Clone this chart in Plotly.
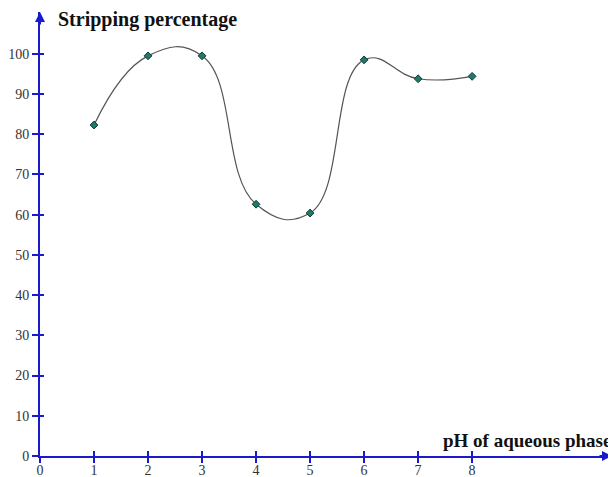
import plotly.graph_objects as go

ph = [1, 2, 3, 4, 5, 6, 7, 8]
stripping = [82.3, 99.5, 99.5, 62.6, 60.4, 98.5, 93.8, 94.4]
x_ticks = [0, 1, 2, 3, 4, 5, 6, 7, 8]
y_ticks = [0, 10, 20, 30, 40, 50, 60, 70, 80, 90, 100]

AXIS = "#1a1acc"
XMAX = 10.59
YMAX = 110.4
FONT = "Liberation Serif"

fig = go.Figure()
fig.add_trace(go.Scatter(
    x=ph, y=stripping, mode="lines+markers",
    line=dict(color="#555555", width=1.2, shape="spline", smoothing=1.3),
    marker=dict(symbol="diamond", size=6, color="#1f7a68",
                line=dict(color="#0d3b33", width=1)),
    showlegend=False, cliponaxis=False,
))
fig.add_trace(go.Scatter(x=[None], y=[None], xaxis="x2", yaxis="y2", showlegend=False))

common_x = dict(range=[0, XMAX], tickvals=x_ticks, showgrid=False, zeroline=False,
                linecolor=AXIS, tickcolor=AXIS, tickwidth=1.5, automargin=False)
common_y = dict(range=[0, YMAX], tickvals=y_ticks, showgrid=False, zeroline=False,
                linecolor=AXIS, tickcolor=AXIS, tickwidth=1.5, automargin=False)

# page body has an 8px margin, so the figure is sized to end at the window edge
fig.update_layout(
    width=608, height=469,
    margin=dict(l=32, r=4, t=4, b=21),
    paper_bgcolor="white", plot_bgcolor="white",
    font=dict(family=FONT, size=14, color="#333333"),
    xaxis=dict(**common_x, showline=True, linewidth=2, ticks="outside", ticklen=5,
               ticklabelstandoff=-5,
               tickfont=dict(family=FONT, size=14, color="#333333")),
    yaxis=dict(**common_y, showline=True, linewidth=2, ticks="outside", ticklen=6,
               tickfont=dict(family=FONT, size=14, color="#333333")),
    xaxis2=dict(**common_x, overlaying="x", anchor="y2", showline=False, ticks="inside",
                ticklen=5, showticklabels=False, side="bottom"),
    yaxis2=dict(**common_y, overlaying="y", anchor="x2", showline=False, ticks="inside",
                ticklen=4, showticklabels=False, side="left"),
    annotations=[
        dict(x=XMAX, y=0, xref="x", yref="y", ax=-14, ay=0, showarrow=True,
             arrowhead=2, arrowsize=1, arrowwidth=2, arrowcolor=AXIS, text=""),
        dict(x=0, y=YMAX, xref="x", yref="y", ax=0, ay=14, showarrow=True,
             arrowhead=2, arrowsize=1, arrowwidth=2, arrowcolor=AXIS, text=""),
        dict(x=0, y=YMAX, xref="x", yref="y", xanchor="left", yanchor="middle",
             xshift=16, yshift=-7, showarrow=False,
             text="<b>Stripping percentage</b>",
             font=dict(family=FONT, size=20, color="#111111")),
        dict(x=XMAX, y=0, xref="x", yref="y", xanchor="right", yanchor="bottom",
             xshift=1, yshift=3, showarrow=False,
             text="<b>pH of aqueous phase</b>",
             font=dict(family=FONT, size=19, color="#111111")),
    ],
)

fig.write_html("out.html")
